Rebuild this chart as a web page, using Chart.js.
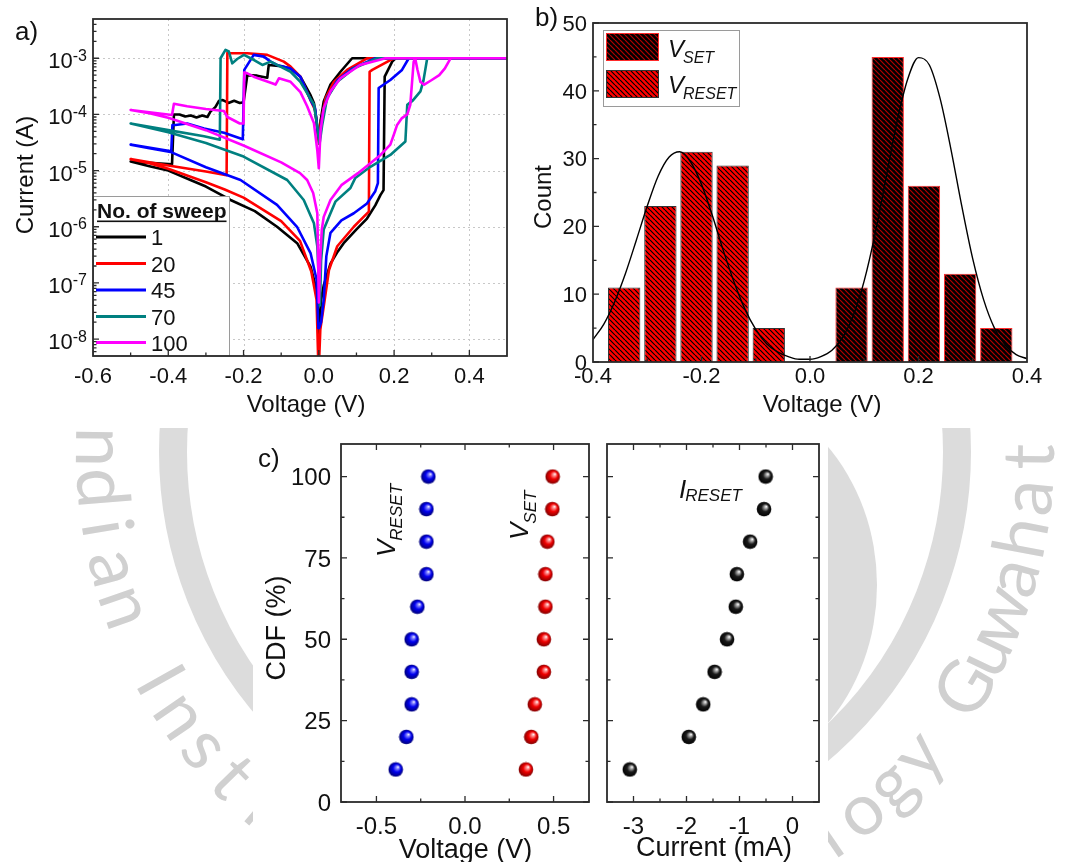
<!DOCTYPE html>
<html lang="en">
<head>
<meta charset="utf-8">
<title>Resistive switching: I–V sweeps, switching-voltage histogram and CDF</title>
<script src="https://cdn.jsdelivr.net/npm/chart.js@4.4.1/dist/chart.umd.min.js"></script>
<style>
  html, body { margin: 0; padding: 0; background: #fff; }
  #sheet { position: relative; width: 1068px; height: 862px; overflow: hidden; }
  #sheet canvas { position: absolute; }
</style>
</head>
<body>
<div id="sheet">
  <canvas id="backdrop" width="1068" height="862" style="left:0;top:0"></canvas>
  <canvas id="panelA" width="520" height="428" style="left:0;top:0"></canvas>
  <canvas id="panelB" width="548" height="428" style="left:520px;top:0"></canvas>
  <canvas id="panelC1" width="345" height="434" style="left:253px;top:428px"></canvas>
  <canvas id="panelC2" width="230" height="434" style="left:598px;top:428px"></canvas>
</div>
<script>
// ---------------- (a) I–V sweeps: [voltage (V), current (A)] in sweep order ----------------
const sweepNumbers = ['1', '20', '45', '70', '100'];
const sweepColors = ['#000000', '#ff0000', '#0000ff', '#008080', '#ff00ff'];

const sweep1 = [[0.002,2e-8],[0.006,5e-8],[0.013,9e-8],[0.031,2.2e-7],[0.05,3.6e-7],[0.066,5.1e-7],[0.1,9e-7],[0.128,1.4e-6],[0.15,2.4e-6],[0.164,3.7e-6],[0.172,4.5e-6],[0.175,4.7e-4],[0.195,8.7e-4],[0.204,1e-3],[0.5,1e-3],[0.0885,1e-3],[0.0575,5.75e-4],[0.031,3.4e-4],[0.013,1.7e-4],[0.0044,7.4e-5],[0.001,3e-5],[-0.002,4e-5],[-0.006,8e-5],[-0.013,1.6e-4],[-0.022,2.2e-4],[-0.049,4.7e-4],[-0.075,6.6e-4],[-0.1,7.2e-4],[-0.133,7.6e-4],[-0.137,4.5e-4],[-0.164,4.9e-4],[-0.19,5e-4],[-0.2,1.65e-4],[-0.21,1.6e-4],[-0.225,1.75e-4],[-0.24,1.6e-4],[-0.255,1.8e-4],[-0.265,1.75e-4],[-0.275,1.35e-4],[-0.288,1.12e-4],[-0.296,9e-5],[-0.31,9.6e-5],[-0.325,8.8e-5],[-0.34,9.6e-5],[-0.355,9.2e-5],[-0.37,1e-4],[-0.385,1e-4],[-0.39,1.3e-5],[-0.5,1.45e-5],[-0.45,1.2e-5],[-0.4,1e-5],[-0.341,6.8e-6],[-0.3,5.2e-6],[-0.2345,3e-6],[-0.17,1.9e-6],[-0.111,1e-6],[-0.0575,5.1e-7],[-0.022,1.95e-7],[-0.006,7.6e-8],[-0.002,2.9e-8],[0,1.3e-8]];

const sweep20 = [[0,3e-9],[0.004,1.5e-8],[0.013,3.8e-8],[0.027,1.7e-7],[0.049,4.5e-7],[0.093,1e-6],[0.119,1.5e-6],[0.133,1.86e-6],[0.135,5.75e-4],[0.142,6.2e-4],[0.19,9.3e-4],[0.2,1e-3],[0.5,1e-3],[0.128,1e-3],[0.075,6.2e-4],[0.04,3.8e-4],[0.018,1.95e-4],[0.0044,6.5e-5],[0.001,3e-5],[-0.003,5e-5],[-0.01,1.2e-4],[-0.022,1.8e-4],[-0.049,4.7e-4],[-0.075,7.1e-4],[-0.093,8.7e-4],[-0.137,1.15e-3],[-0.19,1.23e-3],[-0.235,1.23e-3],[-0.243,1.25e-3],[-0.245,8.3e-6],[-0.3,9.6e-6],[-0.4,1.23e-5],[-0.5,1.6e-5],[-0.45,1.35e-5],[-0.4,1.08e-5],[-0.3,6.2e-6],[-0.25,4.6e-6],[-0.2,3.3e-6],[-0.1,1.26e-6],[-0.05,5.6e-7],[-0.02,1.6e-7],[-0.006,5e-8],[-0.001,3e-9]];

const sweep45 = [[0,1.5e-8],[0.006,2e-8],[0.013,5e-8],[0.02,3e-7],[0.031,7.8e-7],[0.06,1.3e-6],[0.093,1.74e-6],[0.128,2.6e-6],[0.15,4.3e-6],[0.157,6e-6],[0.159,2.95e-4],[0.19,4.1e-4],[0.221,6.2e-4],[0.239,1e-3],[0.5,1e-3],[0.15,1e-3],[0.09,6.6e-4],[0.05,4.1e-4],[0.022,2e-4],[0.009,9e-5],[0.002,3.5e-5],[-0.003,5e-5],[-0.01,1.3e-4],[-0.022,1.8e-4],[-0.049,4.7e-4],[-0.075,6.6e-4],[-0.111,7.6e-4],[-0.128,8.7e-4],[-0.146,1.07e-3],[-0.173,1.15e-3],[-0.198,6.2e-4],[-0.202,3.6e-5],[-0.252,4.7e-5],[-0.305,5.6e-5],[-0.35,6.9e-5],[-0.381,6.5e-5],[-0.389,6.5e-5],[-0.392,2.2e-5],[-0.5,2.9e-5],[-0.45,2.5e-5],[-0.394,2.15e-5],[-0.3,1.15e-5],[-0.208,6.8e-6],[-0.111,2.45e-6],[-0.058,1e-6],[-0.022,3.4e-7],[-0.006,1.15e-7],[-0.001,1.5e-8]];

const sweep70 = [[0.003,3.8e-8],[0.006,2.5e-7],[0.013,8.9e-7],[0.031,1.74e-6],[0.044,2.8e-6],[0.084,4.9e-6],[0.097,7.4e-6],[0.137,1.17e-5],[0.19,1.9e-5],[0.23,3.3e-5],[0.235,1.48e-4],[0.25,1.78e-4],[0.27,2.57e-4],[0.278,4e-4],[0.288,1e-3],[0.5,1e-3],[0.155,1e-3],[0.093,6.6e-4],[0.049,3.8e-4],[0.022,1.95e-4],[0.009,6.5e-5],[0.002,3e-5],[-0.004,6e-5],[-0.013,1.5e-4],[-0.049,3.8e-4],[-0.075,5.75e-4],[-0.111,7.6e-4],[-0.128,8.7e-4],[-0.15,7.6e-4],[-0.172,9.3e-4],[-0.199,1.15e-3],[-0.217,9.7e-4],[-0.23,8.1e-4],[-0.239,1.32e-3],[-0.248,1.41e-3],[-0.261,1e-3],[-0.263,3.55e-5],[-0.305,4.1e-5],[-0.4,5.25e-5],[-0.5,6.9e-5],[-0.4,4.8e-5],[-0.3,3.1e-5],[-0.2,1.78e-5],[-0.084,6.8e-6],[-0.04,3e-6],[-0.013,1.15e-6],[-0.004,4.5e-7],[0.003,3.8e-8]];

const sweep100 = [[0,4.5e-8],[0.004,3e-7],[0.008,9e-7],[0.013,1.5e-6],[0.031,3e-6],[0.06,5.5e-6],[0.104,9e-6],[0.164,1.9e-5],[0.19,2.9e-5],[0.2,4.5e-5],[0.208,6.5e-5],[0.22,8.5e-5],[0.235,1e-4],[0.243,1.48e-4],[0.252,8.7e-4],[0.256,1e-3],[0.262,6.3e-4],[0.27,3.8e-4],[0.28,3.4e-4],[0.3,4.1e-4],[0.32,5e-4],[0.335,6.6e-4],[0.35,1e-3],[0.5,1e-3],[0.177,1e-3],[0.11,7.6e-4],[0.0575,4.4e-4],[0.031,2.57e-4],[0.013,1.29e-4],[0.0044,5e-5],[0,1.1e-5],[-0.004,2.3e-5],[-0.013,7e-5],[-0.031,1.4e-4],[-0.049,2.5e-4],[-0.075,3.8e-4],[-0.106,4.4e-4],[-0.115,3.4e-4],[-0.124,3.6e-4],[-0.173,4.7e-4],[-0.19,5.4e-4],[-0.198,5.6e-4],[-0.2,6.9e-5],[-0.21,6.9e-5],[-0.243,9e-5],[-0.252,1.15e-4],[-0.3,1.25e-4],[-0.35,1.4e-4],[-0.385,1.55e-4],[-0.39,9.8e-5],[-0.5,1.2e-4],[-0.45,1.05e-4],[-0.4,8.7e-5],[-0.3,5.25e-5],[-0.2,2.8e-5],[-0.1,1.4e-5],[-0.05,9e-6],[-0.031,6.8e-6],[-0.015,4e-6],[-0.004,1.74e-6],[-0.002,3.16e-7],[0,4.5e-8]];

const ivVoltageTicks = [-0.6, -0.4, -0.2, 0, 0.2, 0.4];
const ivVoltageLabels = ['-0.6', '-0.4', '-0.2', '0.0', '0.2', '0.4'];
const ivCurrentDecades = [-8, -7, -6, -5, -4, -3];

// ---------------- (b) switching-voltage histogram ----------------
const resetBinCenters = [-0.3425, -0.2758, -0.2092, -0.1426, -0.0760];
const resetCounts = [11, 23, 31, 29, 5];
const setBinCenters = [0.0766, 0.1433, 0.2100, 0.2767, 0.3434];
const setCounts = [11, 45, 26, 13, 5];
const fitVoltage = [-0.40,-0.38,-0.36,-0.34,-0.32,-0.30,-0.28,-0.26,-0.24,-0.22,-0.20,-0.18,-0.16,-0.14,-0.12,-0.10,-0.08,-0.06,-0.04,-0.02,0.00,0.02,0.04,0.06,0.08,0.10,0.12,0.14,0.16,0.18,0.20,0.22,0.24,0.26,0.28,0.30,0.32,0.34,0.36,0.38,0.40];
const fitCount = [3.3,5.6,8.9,13.1,18.0,23.0,27.4,30.2,31.0,29.5,26.2,21.6,16.5,11.8,7.8,4.8,2.7,1.5,0.8,0.4,0.4,0.8,1.7,3.6,6.9,12.0,18.9,27.1,35.3,41.7,44.9,43.8,38.8,31.3,22.9,15.2,9.2,5.0,2.5,1.1,0.5];
const histVoltageTicks = [-0.4, -0.2, 0, 0.2, 0.4];
const histVoltageLabels = ['-0.4', '-0.2', '0.0', '0.2', '0.4'];
const countTicks = [0, 10, 20, 30, 40, 50];

// ---------------- (c) cumulative distributions ----------------
const cdfLevels = [10, 20, 30, 40, 50, 60, 70, 80, 90, 100];
const vResetCdf = [-0.391, -0.331, -0.301, -0.301, -0.301, -0.269, -0.218, -0.218, -0.218, -0.207];
const vSetCdf = [0.344, 0.374, 0.394, 0.445, 0.445, 0.454, 0.454, 0.465, 0.493, 0.495];
const iResetCdf = [-3.07, -1.957, -1.685, -1.47, -1.235, -1.07, -1.05, -0.80, -0.537, -0.506];
const cdfTicks = [0, 25, 50, 75, 100];
const cdfVoltageTicks = [-0.5, 0, 0.5];
const cdfVoltageLabels = ['-0.5', '0.0', '0.5'];
const cdfCurrentTicks = [-3, -2, -1, 0];
const cdfCurrentLabels = ['-3', '-2', '-1', '0'];

// ---------------- shared drawing helpers ----------------
const FONT = '"Liberation Sans", Arial, Helvetica, sans-serif';
const INK = '#111111';
const FRAME = '#2b2b2b';
Chart.defaults.font.family = FONT;

function setFont(ctx, size, style) { ctx.font = (style ? style + ' ' : '') + size + 'px ' + FONT; }

function drawFrame(ctx, a, w) {
  ctx.save(); ctx.strokeStyle = FRAME; ctx.lineWidth = w || 1.6;
  ctx.strokeRect(a.left, a.top, a.right - a.left, a.bottom - a.top); ctx.restore();
}

function drawTicks(chart, axis, values, sides, len) {
  const ctx = chart.ctx, a = chart.chartArea, s = chart.scales[axis];
  ctx.save(); ctx.strokeStyle = FRAME; ctx.lineWidth = 1.3; ctx.beginPath();
  for (const v of values) {
    const p = s.getPixelForValue(v);
    for (const side of sides) {
      if (side === 'bottom') { ctx.moveTo(p, a.bottom); ctx.lineTo(p, a.bottom - len); }
      else if (side === 'top') { ctx.moveTo(p, a.top); ctx.lineTo(p, a.top + len); }
      else if (side === 'left') { ctx.moveTo(a.left, p); ctx.lineTo(a.left + len, p); }
      else { ctx.moveTo(a.right, p); ctx.lineTo(a.right - len, p); }
    }
  }
  ctx.stroke(); ctx.restore();
}

function drawXLabels(chart, axis, values, texts, baseline, size) {
  const ctx = chart.ctx, s = chart.scales[axis];
  ctx.save(); setFont(ctx, size); ctx.fillStyle = INK; ctx.textAlign = 'center'; ctx.textBaseline = 'alphabetic';
  values.forEach((v, i) => ctx.fillText(texts[i], s.getPixelForValue(v), baseline));
  ctx.restore();
}

function drawYLabels(chart, axis, values, texts, rightX, size) {
  const ctx = chart.ctx, s = chart.scales[axis];
  ctx.save(); setFont(ctx, size); ctx.fillStyle = INK; ctx.textAlign = 'right'; ctx.textBaseline = 'alphabetic';
  values.forEach((v, i) => ctx.fillText(texts[i], rightX, s.getPixelForValue(v) + size * 0.358));
  ctx.restore();
}

function drawText(ctx, text, x, baseline, size, align, style) {
  ctx.save(); setFont(ctx, size, style); ctx.fillStyle = INK; ctx.textAlign = align || 'center';
  ctx.textBaseline = 'alphabetic'; ctx.fillText(text, x, baseline); ctx.restore();
}

// vertical title reading upwards, centred on (cx, cy)
function drawVTitle(ctx, text, cx, cy, size) {
  ctx.save(); setFont(ctx, size); ctx.fillStyle = INK; ctx.textAlign = 'center'; ctx.textBaseline = 'alphabetic';
  ctx.translate(cx + size * 0.358, cy); ctx.rotate(-Math.PI / 2); ctx.fillText(text, 0, 0); ctx.restore();
}

// symbol with italic subscript, e.g. V_SET
function drawSubscripted(ctx, x, y, main, sub, mainSize, subSize, drop) {
  setFont(ctx, mainSize, 'italic'); ctx.textAlign = 'left'; ctx.textBaseline = 'alphabetic';
  ctx.fillText(main, x, y);
  const w = ctx.measureText(main).width;
  setFont(ctx, subSize, 'italic'); ctx.fillText(sub, x + w - 1, y + drop);
}

function hatch(bg, fg) {
  const s = 5, c = document.createElement('canvas'); c.width = s; c.height = s;
  const g = c.getContext('2d');
  g.fillStyle = bg; g.fillRect(0, 0, s, s);
  g.strokeStyle = fg; g.lineWidth = 1.2; g.beginPath();
  for (let k = -1; k <= 1; k++) { g.moveTo(k * s, 0); g.lineTo(k * s + s, s); }
  g.stroke();
  return g.createPattern(c, 'repeat');
}

function sphere(light, base, dark) {
  const c = document.createElement('canvas'); c.width = 16; c.height = 16;
  const g = c.getContext('2d');
  const grd = g.createRadialGradient(10.3, 5.4, 0.2, 8, 8, 7.6);
  grd.addColorStop(0, '#ffffff'); grd.addColorStop(0.16, light);
  grd.addColorStop(0.5, base); grd.addColorStop(1, dark);
  g.fillStyle = grd; g.beginPath(); g.arc(8, 8, 7.3, 0, Math.PI * 2); g.fill();
  return c;
}

// ---------------- page backdrop with the institute seal ----------------
(function backdrop() {
  const g = document.getElementById('backdrop').getContext('2d');
  g.fillStyle = '#fff'; g.fillRect(0, 0, 1068, 862);
  g.strokeStyle = '#dcdcdc'; g.fillStyle = '#dcdcdc';
  g.lineWidth = 28; g.beginPath(); g.arc(565, 452, 392, 0, Math.PI * 2); g.stroke();
  g.beginPath(); g.ellipse(700, 585, 177, 200, 0, 0, Math.PI * 2); g.fill();
  const seal = 'Indian Institute of Technology Guwahati';
  g.font = '400 72px Lato, "Open Sans", sans-serif';
  g.fillStyle = '#d0d0d0'; g.textAlign = 'center'; g.textBaseline = 'alphabetic';
  for (let i = 0; i < seal.length; i++) {
    const th = (185.6 - 5.0 * i) * Math.PI / 180;
    g.save();
    g.translate(565 + 489 * Math.cos(th), 452 + 489 * Math.sin(th));
    g.rotate(th - Math.PI / 2);
    g.fillText(seal[i], 0, 0);
    g.restore();
  }
  g.fillStyle = '#fff';
  g.fillRect(0, 0, 1068, 428);
  g.fillRect(253, 428, 575, 434);
})();

const baseOptions = {
  responsive: false, animation: false, devicePixelRatio: 1,
  events: [],
  plugins: { legend: { display: false }, tooltip: { enabled: false } }
};

// ---------------- (a) ----------------
const sweeps = [sweep1, sweep20, sweep45, sweep70, sweep100];
new Chart(document.getElementById('panelA'), {
  type: 'scatter',
  data: {
    datasets: sweeps.map((s, i) => ({
      label: sweepNumbers[i],
      data: s.map(p => ({ x: p[0], y: p[1] })),
      showLine: true, borderColor: sweepColors[i], borderWidth: 2.6,
      pointRadius: 0, borderJoinStyle: 'round', order: 4 - i
    }))
  },
  options: Object.assign({}, baseOptions, {
    layout: { padding: { left: 93, top: 19, right: 13, bottom: 72 } },
    scales: {
      x: { type: 'linear', min: -0.6, max: 0.5, display: false },
      y: { type: 'logarithmic', min: 5e-9, max: 5e-3, display: false }
    }
  }),
  plugins: [{
    id: 'ivDecor',
    beforeDatasetsDraw(chart) {
      const ctx = chart.ctx, a = chart.chartArea, sx = chart.scales.x, sy = chart.scales.y;
      ctx.save(); ctx.strokeStyle = '#c8c8c8'; ctx.lineWidth = 1; ctx.setLineDash([2, 3]);
      ctx.beginPath();
      ivVoltageTicks.slice(1).forEach(v => { const p = Math.round(sx.getPixelForValue(v)) + 0.5; ctx.moveTo(p, a.top); ctx.lineTo(p, a.bottom); });
      ivCurrentDecades.forEach(e => { const p = Math.round(sy.getPixelForValue(Math.pow(10, e))) + 0.5; ctx.moveTo(a.left, p); ctx.lineTo(a.right, p); });
      ctx.stroke(); ctx.restore();
    },
    afterDatasetsDraw(chart) {
      const ctx = chart.ctx, a = chart.chartArea, sy = chart.scales.y;
      // legend
      ctx.save();
      ctx.fillStyle = '#fff'; ctx.fillRect(a.left, 196, 136, a.bottom - 196);
      ctx.strokeStyle = '#9a9a9a'; ctx.lineWidth = 1; ctx.strokeRect(a.left + 0.5, 196.5, 136, a.bottom - 196.5);
      setFont(ctx, 21, 'bold'); ctx.fillStyle = INK; ctx.textAlign = 'left'; ctx.textBaseline = 'alphabetic';
      ctx.fillText('No. of sweep', 97, 218);
      const hw = ctx.measureText('No. of sweep').width;
      ctx.fillRect(97, 220.5, hw, 1.6);
      const rowY = [237, 263.5, 290, 316.5, 342.5];
      sweepNumbers.forEach((n, i) => {
        ctx.strokeStyle = sweepColors[i]; ctx.lineWidth = 2.8; ctx.beginPath();
        ctx.moveTo(96, rowY[i]); ctx.lineTo(146, rowY[i]); ctx.stroke();
        setFont(ctx, 22); ctx.fillStyle = INK; ctx.fillText(n, 151, rowY[i] + 8);
      });
      ctx.restore();
      drawFrame(ctx, a, 1.8);
      drawTicks(chart, 'x', [-0.4, -0.2, 0, 0.2, 0.4], ['bottom'], 6);
      drawTicks(chart, 'x', [-0.5, -0.3, -0.1, 0.1, 0.3], ['bottom'], 3.5);
      drawTicks(chart, 'y', ivCurrentDecades.map(e => Math.pow(10, e)), ['left'], 6);
      const minor = [];
      for (let e = -9; e <= -3; e++) for (let m = 2; m <= 9; m++) {
        const v = m * Math.pow(10, e);
        if (v > 5.01e-9 && v < 4.99e-3) minor.push(v);
      }
      drawTicks(chart, 'y', minor, ['left'], 3.5);
      drawXLabels(chart, 'x', ivVoltageTicks, ivVoltageLabels, 383, 22);
      // powers of ten on the current axis
      ctx.save(); ctx.fillStyle = INK; ctx.textAlign = 'left'; ctx.textBaseline = 'alphabetic';
      ivCurrentDecades.forEach(e => {
        const p = sy.getPixelForValue(Math.pow(10, e));
        const sup = '-' + Math.abs(e);
        setFont(ctx, 16); const ws = ctx.measureText(sup).width;
        setFont(ctx, 22); const wb = ctx.measureText('10').width;
        ctx.fillText('10', 87 - ws - wb, p + 10);
        setFont(ctx, 16); ctx.fillText(sup, 87 - ws, p + 2.5);
      });
      ctx.restore();
      drawVTitle(ctx, 'Current (A)', 24, 175, 24);
      drawText(ctx, 'Voltage (V)', 306, 412, 24);
      drawText(ctx, 'a)', 15, 40, 26, 'left');
    }
  }]
});

// ---------------- (b) ----------------
const resetFill = hatch('#ff0000', '#000000');
const setFill = hatch('#000000', '#b40000');
new Chart(document.getElementById('panelB'), {
  type: 'bar',
  data: {
    datasets: [
      { type: 'line', label: 'Gaussian fit', data: fitVoltage.map((v, i) => ({ x: v, y: fitCount[i] })),
        borderColor: '#000', borderWidth: 1.4, pointRadius: 0, cubicInterpolationMode: 'monotone', order: 0 },
      { type: 'bar', label: 'V_SET', data: setBinCenters.map((v, i) => ({ x: v, y: setCounts[i] })),
        backgroundColor: setFill, borderColor: '#ff2a2a', borderWidth: 1, grouped: false,
        barPercentage: 0.895, categoryPercentage: 1, order: 1 },
      { type: 'bar', label: 'V_RESET', data: resetBinCenters.map((v, i) => ({ x: v, y: resetCounts[i] })),
        backgroundColor: resetFill, borderColor: '#333333', borderWidth: 1, grouped: false,
        barPercentage: 0.895, categoryPercentage: 1, order: 2 }
    ]
  },
  options: Object.assign({}, baseOptions, {
    layout: { padding: { left: 73, top: 23, right: 41, bottom: 66 } },
    scales: {
      x: { type: 'linear', min: -0.4, max: 0.4, offset: false, display: false },
      y: { type: 'linear', min: 0, max: 50, display: false }
    }
  }),
  plugins: [{
    id: 'histDecor',
    afterDatasetsDraw(chart) {
      const ctx = chart.ctx, a = chart.chartArea;
      drawFrame(ctx, a, 1.8);
      drawTicks(chart, 'y', countTicks, ['left'], 6);
      drawTicks(chart, 'y', [5, 15, 25, 35, 45], ['left'], 3.5);
      drawTicks(chart, 'x', [-0.2, 0, 0.2], ['bottom'], 6);
      drawTicks(chart, 'x', [-0.3, -0.1, 0.1, 0.3], ['bottom'], 3.5);
      drawXLabels(chart, 'x', histVoltageTicks, histVoltageLabels, 383, 22);
      drawYLabels(chart, 'y', countTicks, countTicks.map(String), 67, 22);
      drawVTitle(ctx, 'Count', 22, 197, 24);
      drawText(ctx, 'Voltage (V)', 302, 412, 24);
      drawText(ctx, 'b)', 15, 26, 26, 'left');
      // legend
      ctx.save();
      ctx.fillStyle = '#fff'; ctx.fillRect(83, 30, 136, 76);
      ctx.strokeStyle = '#9a9a9a'; ctx.lineWidth = 1; ctx.strokeRect(83.5, 30.5, 136, 76);
      ctx.fillStyle = setFill; ctx.fillRect(86, 33, 53, 28);
      ctx.strokeStyle = '#ff2a2a'; ctx.strokeRect(86.5, 33.5, 52, 27);
      ctx.fillStyle = resetFill; ctx.fillRect(86, 70, 53, 28);
      ctx.strokeStyle = '#333'; ctx.strokeRect(86.5, 70.5, 52, 27);
      ctx.fillStyle = INK;
      drawSubscripted(ctx, 148, 57, 'V', 'SET', 24, 16, 6);
      drawSubscripted(ctx, 148, 92.5, 'V', 'RESET', 24, 16, 6.5);
      ctx.restore();
    }
  }]
});

// ---------------- (c) ----------------
const blueBall = sphere('#8c8cff', '#0000f0', '#000070');
const redBall = sphere('#ff9a9a', '#f00000', '#7a0000');
const blackBall = sphere('#b0b0b0', '#1a1a1a', '#000000');
const cdfMinor = [12.5, 37.5, 62.5, 87.5];

new Chart(document.getElementById('panelC1'), {
  type: 'scatter',
  data: {
    datasets: [
      { label: 'V_RESET', data: vResetCdf.map((v, i) => ({ x: v, y: cdfLevels[i] })), pointStyle: blueBall, pointRadius: 8 },
      { label: 'V_SET', data: vSetCdf.map((v, i) => ({ x: v, y: cdfLevels[i] })), pointStyle: redBall, pointRadius: 8 }
    ]
  },
  options: Object.assign({}, baseOptions, {
    layout: { padding: { left: 88, top: 16, right: 8, bottom: 60 } },
    scales: {
      x: { type: 'linear', min: -0.7, max: 0.7, display: false },
      y: { type: 'linear', min: 0, max: 110, display: false }
    }
  }),
  plugins: [{
    id: 'cdfVoltDecor',
    beforeDatasetsDraw(chart) {
      const ctx = chart.ctx, a = chart.chartArea;
      drawFrame(ctx, a, 1.8);
      drawTicks(chart, 'x', cdfVoltageTicks, ['bottom', 'top'], 6);
      drawTicks(chart, 'x', [-0.25, 0.25], ['bottom', 'top'], 3.5);
      drawTicks(chart, 'y', cdfTicks, ['left', 'right'], 6);
      drawTicks(chart, 'y', cdfMinor, ['left', 'right'], 3.5);
    },
    afterDatasetsDraw(chart) {
      const ctx = chart.ctx;
      drawXLabels(chart, 'x', cdfVoltageTicks, cdfVoltageLabels, 406, 24);
      drawYLabels(chart, 'y', cdfTicks, cdfTicks.map(String), 78, 24);
      drawVTitle(ctx, 'CDF (%)', 22, 200, 27);
      drawText(ctx, 'Voltage (V)', 212.5, 429.5, 27);
      drawText(ctx, 'c)', 5, 38.5, 26, 'left');
      ctx.save(); ctx.fillStyle = INK;
      ctx.translate(142, 129); ctx.rotate(-Math.PI / 2);
      drawSubscripted(ctx, 0, 0, 'V', 'RESET', 26, 17, 7);
      ctx.restore();
      ctx.save(); ctx.fillStyle = INK;
      ctx.translate(275, 112); ctx.rotate(-Math.PI / 2);
      drawSubscripted(ctx, 0, 0, 'V', 'SET', 26, 17, 8);
      ctx.restore();
    }
  }]
});

new Chart(document.getElementById('panelC2'), {
  type: 'scatter',
  data: {
    datasets: [
      { label: 'I_RESET', data: iResetCdf.map((v, i) => ({ x: v, y: cdfLevels[i] })), pointStyle: blackBall, pointRadius: 8 }
    ]
  },
  options: Object.assign({}, baseOptions, {
    layout: { padding: { left: 7, top: 16, right: 7, bottom: 60 } },
    scales: {
      x: { type: 'linear', min: -3.5, max: 0.5, display: false },
      y: { type: 'linear', min: 0, max: 110, display: false }
    }
  }),
  plugins: [{
    id: 'cdfCurrentDecor',
    beforeDatasetsDraw(chart) {
      const ctx = chart.ctx, a = chart.chartArea;
      drawFrame(ctx, a, 1.8);
      drawTicks(chart, 'x', cdfCurrentTicks, ['bottom', 'top'], 6);
      drawTicks(chart, 'x', [-2.5, -1.5, -0.5], ['bottom', 'top'], 3.5);
      drawTicks(chart, 'y', cdfTicks, ['left', 'right'], 6);
      drawTicks(chart, 'y', cdfMinor, ['left', 'right'], 3.5);
    },
    afterDatasetsDraw(chart) {
      const ctx = chart.ctx;
      drawXLabels(chart, 'x', cdfCurrentTicks, cdfCurrentLabels, 406, 24);
      drawText(ctx, 'Current (mA)', 116, 428, 27);
      ctx.save(); ctx.fillStyle = INK;
      drawSubscripted(ctx, 81, 70, 'I', 'RESET', 26, 17, 2.5);
      ctx.restore();
    }
  }]
});
</script>
</body>
</html>
